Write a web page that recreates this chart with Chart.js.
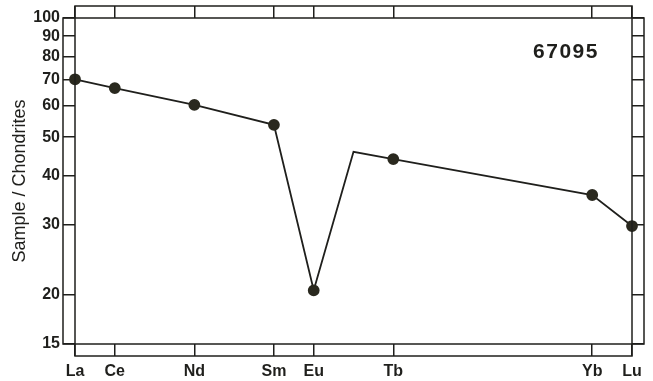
<!DOCTYPE html>
<html>
<head>
<meta charset="utf-8">
<script src="https://cdn.jsdelivr.net/npm/chart.js@4.4.1/dist/chart.umd.min.js"></script>
<style>
  html, body { margin: 0; padding: 0; background: #fff; }
  #wrap { width: 653px; height: 381px; position: relative; }
</style>
</head>
<body>
<div id="wrap"><canvas id="chart"></canvas></div>
<script>
// REE pattern, chondrite normalised, sample 67095
const elements = ['La', 'Ce', 'Nd', 'Sm', 'Eu', 'Gd', 'Tb', 'Yb', 'Lu'];
const atomicNumbers = [57, 58, 60, 62, 63, 64, 65, 70, 71];
const values = [70, 66.5, 60.3, 53.7, 20.5, 45.9, 44.0, 35.7, 29.8];
const measured = [true, true, true, true, true, false, true, true, true]; // Gd is interpolated, no marker

const xTickPositions = [57, 58, 60, 62, 63, 65, 70, 71];
const xTickLabels = ['La', 'Ce', 'Nd', 'Sm', 'Eu', 'Tb', 'Yb', 'Lu'];
const yTicks = [15, 20, 30, 40, 50, 60, 70, 80, 90, 100];
const sampleName = '67095';

const INK = '#1f1f1c';
const DOT = '#2a291f';
const FONT = '"Liberation Sans", Arial, sans-serif';
const TICK_LEN = 12;

const points = atomicNumbers.map((z, i) => ({ x: z, y: values[i] }));

// two offset boxes like the original plot: one for the y scale, one for the x scale
const framePlugin = {
  id: 'frames',
  afterDraw(chart) {
    const { ctx, chartArea: a } = chart;
    ctx.save();
    ctx.strokeStyle = INK;
    ctx.lineWidth = 1.5;
    ctx.strokeRect(a.left - TICK_LEN, a.top, a.right - a.left + 2 * TICK_LEN, a.bottom - a.top);
    ctx.strokeRect(a.left, a.top - TICK_LEN, a.right - a.left, a.bottom - a.top + 2 * TICK_LEN);

    ctx.fillStyle = INK;
    ctx.font = 'bold 21px ' + FONT;
    ctx.letterSpacing = '1.5px';
    ctx.textAlign = 'center';
    ctx.textBaseline = 'alphabetic';
    ctx.fillText(sampleName, a.right - 66, 58);
    ctx.restore();
  }
};

const tickGrid = {
  drawOnChartArea: false,
  drawTicks: true,
  tickLength: TICK_LEN,
  color: INK,
  lineWidth: 1.5
};

new Chart(document.getElementById('chart'), {
  type: 'line',
  data: {
    datasets: [{
      data: points,
      borderColor: INK,
      borderWidth: 1.8,
      backgroundColor: DOT,
      pointBackgroundColor: DOT,
      pointBorderColor: DOT,
      pointRadius: measured.map(m => (m ? 5 : 0)),
      pointHoverRadius: measured.map(m => (m ? 5 : 0)),
      tension: 0,
      clip: false
    }]
  },
  options: {
    responsive: true,
    maintainAspectRatio: false,
    animation: false,
    layout: { padding: 0 },
    plugins: {
      legend: { display: false },
      tooltip: { enabled: false }
    },
    scales: {
      x: {
        type: 'linear',
        position: 'bottom',
        min: 57,
        max: 71,
        grid: tickGrid,
        border: { display: false },
        afterBuildTicks: s => { s.ticks = xTickPositions.map(v => ({ value: v })); },
        afterFit: s => { s.height = 37; },
        ticks: {
          autoSkip: false,
          maxRotation: 0,
          padding: 6,
          color: INK,
          font: { family: FONT, size: 16, weight: 'bold' },
          callback: v => xTickLabels[xTickPositions.indexOf(v)]
        }
      },
      xTop: {
        type: 'linear',
        position: 'top',
        min: 57,
        max: 71,
        grid: tickGrid,
        border: { display: false },
        afterBuildTicks: s => { s.ticks = xTickPositions.map(v => ({ value: v })); },
        afterFit: s => { s.height = 18; },
        ticks: { display: false }
      },
      y: {
        type: 'logarithmic',
        position: 'left',
        min: 15,
        max: 100,
        grid: tickGrid,
        border: { display: false },
        afterBuildTicks: s => { s.ticks = yTicks.map(v => ({ value: v })); },
        afterFit: s => { s.width = 75; },
        ticks: {
          autoSkip: false,
          padding: 3,
          color: INK,
          font: { family: FONT, size: 16, weight: 'bold' },
          callback: v => String(v)
        },
        title: {
          display: true,
          text: 'Sample / Chondrites',
          color: INK,
          padding: { top: 9, bottom: 0 },
          font: { family: FONT, size: 18 }
        }
      },
      yRight: {
        type: 'logarithmic',
        position: 'right',
        min: 15,
        max: 100,
        grid: tickGrid,
        border: { display: false },
        afterBuildTicks: s => { s.ticks = yTicks.map(v => ({ value: v })); },
        afterFit: s => { s.width = 21; },
        ticks: { display: false }
      }
    }
  },
  plugins: [framePlugin]
});
</script>
</body>
</html>
